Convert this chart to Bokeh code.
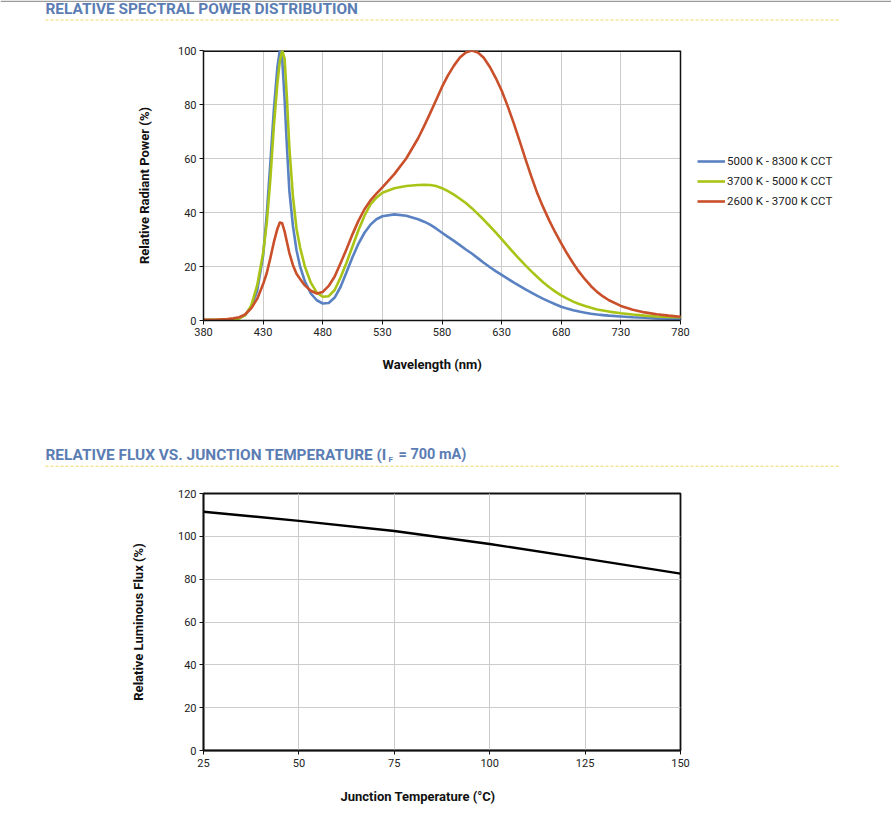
from bokeh.plotting import figure
from bokeh.models import FixedTicker, Range1d, Legend, LegendItem
from bokeh.core.properties import value
from bokeh.embed import file_html
from bokeh.resources import INLINE

# ---------------- data ----------------
wavelength = [380, 390, 400, 405, 410, 415, 420, 425, 430, 433, 436, 439, 442, 444, 446, 448,
              450, 452, 455, 458, 461, 465, 470, 475, 480, 485, 490, 495, 500, 505, 510, 515,
              520, 525, 530, 540, 550, 560, 565, 570, 575, 580, 585, 590, 595, 600, 605, 610,
              615, 620, 625, 630, 635, 640, 645, 650, 655, 660, 665, 670, 675, 680, 685, 690,
              695, 700, 705, 710, 715, 720, 730, 740, 750, 760, 770, 780]

spd_5000_8300 = [0.2, 0.2, 0.3, 0.5, 0.9, 2.0, 5.0, 11.0, 24.0, 39.0, 58.0, 78.0, 94.0, 100.0, 97.0, 82.0,
                 64.0, 48.0, 35.0, 26.0, 20.0, 14.5, 10.0, 7.5, 6.3, 6.5, 8.5, 12.5, 18.0, 23.5, 28.5, 32.5,
                 35.5, 37.5, 38.6, 39.3, 38.8, 37.5, 36.6, 35.5, 34.1, 32.5, 31.0, 29.5, 27.9, 26.3, 24.8, 23.1,
                 21.4, 19.8, 18.3, 16.9, 15.5, 14.1, 12.8, 11.5, 10.3, 9.1, 8.0, 7.0, 6.0, 5.1, 4.4, 3.8,
                 3.3, 2.9, 2.5, 2.2, 2.0, 1.8, 1.5, 1.2, 1.0, 0.8, 0.7, 0.6]

spd_3700_5000 = [0.3, 0.3, 0.4, 0.5, 0.8, 2.0, 5.5, 13.0, 25.0, 36.0, 52.0, 72.0, 88.0, 96.0, 100.0, 97.0,
                 82.0, 64.0, 46.0, 34.0, 27.0, 20.0, 14.0, 10.3, 8.8, 9.0, 11.3, 16.0, 21.5, 27.5, 33.5, 38.8,
                 43.0, 45.5, 47.3, 49.0, 49.8, 50.2, 50.3, 50.2, 49.8, 49.0, 47.9, 46.6, 45.1, 43.5, 41.6, 39.5,
                 37.3, 35.0, 32.6, 30.1, 27.6, 25.1, 22.7, 20.4, 18.2, 16.1, 14.1, 12.3, 10.7, 9.3, 8.1, 7.0,
                 6.1, 5.4, 4.7, 4.1, 3.7, 3.3, 2.7, 2.2, 1.8, 1.5, 1.3, 1.2]

spd_2600_3700 = [0.3, 0.3, 0.5, 0.8, 1.2, 2.3, 4.5, 8.0, 13.5, 17.5, 23.0, 29.0, 34.0, 36.3, 36.0, 33.0,
                 29.0, 25.0, 20.5, 17.3, 15.4, 13.0, 11.0, 10.0, 10.6, 12.8, 16.3, 21.3, 26.5, 32.0, 37.0, 41.2,
                 44.5, 47.0, 49.3, 54.2, 60.0, 67.5, 72.0, 76.7, 81.6, 86.5, 90.8, 94.4, 97.4, 99.3, 100.0, 99.3,
                 97.3, 94.0, 89.9, 85.2, 79.5, 73.3, 66.6, 59.8, 53.2, 47.0, 41.8, 37.0, 32.6, 28.6, 24.7, 21.2,
                 18.0, 15.2, 12.7, 10.6, 8.9, 7.5, 5.4, 4.0, 3.0, 2.3, 1.8, 1.4]

series_labels = ["5000 K - 8300 K CCT", "3700 K - 5000 K CCT", "2600 K - 3700 K CCT"]
series_colors = ["#5a82c2", "#a9c416", "#c9502a"]

wl_min, wl_max = 380, 780
wl_ticks = [380, 430, 480, 530, 580, 630, 680, 730, 780]
power_ticks = [0, 20, 40, 60, 80, 100]

junction_temp = [25, 50, 75, 100, 125, 150]
rel_flux = [111.5, 107.2, 102.5, 96.4, 89.6, 82.6]
temp_ticks = [25, 50, 75, 100, 125, 150]
flux_ticks = [0, 20, 40, 60, 80, 100, 120]

title_1 = "RELATIVE SPECTRAL POWER DISTRIBUTION"
title_2a = "RELATIVE FLUX VS. JUNCTION TEMPERATURE (I"
title_2b = "F"
title_2c = "= 700 mA)"
xlabel_1 = "Wavelength (nm)"
ylabel_1 = "Relative Radiant Power (%)"
xlabel_2 = "Junction Temperature (°C)"
ylabel_2 = "Relative Luminous Flux (%)"

# ---------------- style ----------------
HEAD_COLOR = "#5b7db3"
DASH_COLOR = "#f0d860"
FONT = "Roboto"
AX_COLOR = "#111111"
GRID_COLOR = "#cccccc"
W = 891


def strip(height):
    """A borderless figure whose data coordinates equal page pixels (y downward)."""
    h = figure(width=W, height=height, output_backend="svg", toolbar_location=None,
               x_range=Range1d(0, W), y_range=Range1d(height, 0),
               x_axis_type=None, y_axis_type=None,
               min_border_left=0, min_border_right=0, min_border_top=0, min_border_bottom=0)
    h.grid.visible = False
    h.outline_line_color = None
    h.background_fill_color = "white"
    h.border_fill_color = "white"
    return h


def head_text(h, x, y, txt, size):
    h.text(x=[x], y=[y], text=[txt], text_font=value(FONT), text_font_style="bold",
           text_font_size=size, text_color=HEAD_COLOR, text_baseline="middle", text_align="left")


def axis_title(h, x, y, txt):
    h.text(x=[x], y=[y], text=[txt], text_font=value(FONT), text_font_style="bold",
           text_font_size="13px", text_color=AX_COLOR, text_baseline="middle", text_align="center")


def style(p, xticks, yticks, ylab_standoff, xtick_standoff):
    p.xaxis.ticker = FixedTicker(ticks=xticks)
    p.yaxis.ticker = FixedTicker(ticks=yticks)
    p.xgrid.ticker = FixedTicker(ticks=xticks)
    p.ygrid.ticker = FixedTicker(ticks=yticks)
    for g in (p.xgrid, p.ygrid):
        g.grid_line_color = GRID_COLOR
        g.grid_line_width = 1
    for ax in (p.xaxis, p.yaxis):
        ax.axis_line_color = AX_COLOR
        ax.axis_line_width = 1.5
        ax.major_tick_in = 0
        ax.major_tick_out = 4
        ax.major_tick_line_color = AX_COLOR
        ax.minor_tick_line_color = None
        ax.major_label_text_font = FONT
        ax.major_label_text_font_size = "11px"
        ax.major_label_text_color = "#222222"
        ax.axis_label_text_font = FONT
        ax.axis_label_text_font_size = "13px"
        ax.axis_label_text_font_style = "bold"
        ax.axis_label_text_color = AX_COLOR
    p.xaxis.major_label_standoff = xtick_standoff
    p.yaxis.major_label_standoff = 3
    p.yaxis.axis_label_standoff = ylab_standoff
    p.outline_line_color = AX_COLOR
    p.outline_line_width = 1.5
    p.background_fill_color = "white"
    p.border_fill_color = "white"


# ---------------- header 1 (page y 0-24) ----------------
h1 = strip(24)
h1.line([0, W], [0.8, 0.8], line_color="#9a9a9a", line_width=1.6)
head_text(h1, 45, 8, title_1, "15.4px")
h1.line([45, 838], [19.5, 19.5], line_color=DASH_COLOR, line_dash="3 2", line_width=1)

# ---------------- chart 1 (page y 24-344) ----------------
# plot area 203..680 px for 380..780 nm; the frame continues to 850 px so the legend can sit at its right
px_per_nm = 477 / 400
frame_w = W - 203 - 41
p1 = figure(width=W, height=320, output_backend="svg", toolbar_location=None,
            x_range=Range1d(wl_min, wl_min + frame_w / px_per_nm), y_range=Range1d(0, 100),
            min_border_left=203, min_border_right=41, min_border_top=26, min_border_bottom=24,
            y_axis_label=ylabel_1)
style(p1, wl_ticks, power_ticks, 23, 3)
p1.outline_line_color = None
p1.xaxis.bounds = (wl_min, wl_max)
p1.ygrid.visible = False
# horizontal grid lines limited to the plot area
p1.segment(x0=[wl_min] * len(power_ticks), x1=[wl_max] * len(power_ticks), y0=power_ticks, y1=power_ticks,
           line_color=GRID_COLOR, line_width=1)
# plot-area border (top and right)
p1.segment(x0=[wl_min], x1=[wl_max], y0=[100], y1=[100], line_color=AX_COLOR, line_width=3)
p1.segment(x0=[wl_max], x1=[wl_max], y0=[0], y1=[100], line_color=AX_COLOR, line_width=1.5)

renderers = []
for vals, col in zip([spd_5000_8300, spd_3700_5000, spd_2600_3700], series_colors):
    r = p1.line(wavelength, vals, line_color=col, line_width=2.6, line_join="round")
    renderers.append(r)

legend = Legend(items=[LegendItem(label=lab, renderers=[r]) for lab, r in zip(series_labels, renderers)],
                location=(494, 109), orientation="vertical", padding=0, spacing=0, margin=0,
                glyph_width=28, glyph_height=20, label_height=20, label_standoff=2,
                label_text_font=FONT, label_text_font_size="11.5px", label_text_color="#222222",
                border_line_color=None, background_fill_alpha=0)
p1.add_layout(legend, "center")

# ---------------- x title 1 (page y 344-440) ----------------
f1 = strip(96)
axis_title(f1, 431.7, 20, xlabel_1)

# ---------------- header 2 (page y 440-470) ----------------
h2 = strip(30)
head_text(h2, 45, 14, title_2a, "15.4px")
head_text(h2, 388, 19, title_2b, "8px")
head_text(h2, 398, 14, title_2c, "14.5px")
h2.line([45, 838], [25.7, 25.7], line_color=DASH_COLOR, line_dash="3 2", line_width=1)

# ---------------- chart 2 (page y 470-780) ----------------
p2 = figure(width=W, height=310, output_backend="svg", toolbar_location=None,
            x_range=Range1d(25, 150), y_range=Range1d(0, 120),
            min_border_left=203, min_border_right=211, min_border_top=23, min_border_bottom=30,
            y_axis_label=ylabel_2)
style(p2, temp_ticks, flux_ticks, 29, 4)
p2.outline_line_width = 1.8
p2.line(junction_temp, rel_flux, line_color="#000000", line_width=2.4, line_join="round")

# ---------------- x title 2 (page y 780-827) ----------------
f2 = strip(47)
axis_title(f2, 417.5, 16, xlabel_2)

open("out.html", "w").write(file_html([h1, p1, f1, h2, p2, f2], INLINE))
